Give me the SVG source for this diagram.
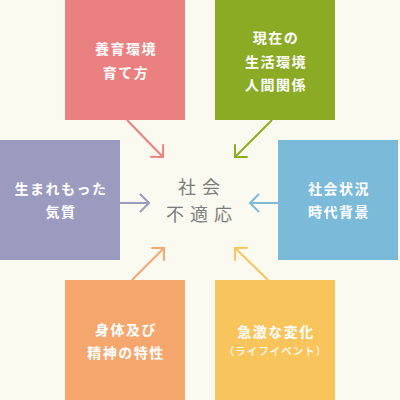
<svg xmlns="http://www.w3.org/2000/svg" width="400" height="400" viewBox="0 0 400 400">
<style>
.lbl{font-family:"Noto Sans CJK JP","Noto Sans",sans-serif;font-size:14px;font-weight:700;fill:#ffffff;text-anchor:middle;letter-spacing:1.5px}
.sub{font-size:10.5px;font-weight:500;letter-spacing:1px}
.ctr{font-family:"Noto Sans CJK JP","Noto Sans",sans-serif;font-size:18px;fill:#7b7b7b;text-anchor:middle;letter-spacing:6px}
.arr{fill:none;stroke-width:2}
</style>
<defs>
<marker id="mPink" markerUnits="userSpaceOnUse" markerWidth="30" markerHeight="30" refX="0" refY="0" viewBox="-15 -15 30 30" orient="auto"><path d="M-9,-9 L0,0 L-9,9" fill="none" stroke="#ea8080" stroke-width="2"/></marker>
<marker id="mGreen" markerUnits="userSpaceOnUse" markerWidth="30" markerHeight="30" refX="0" refY="0" viewBox="-15 -15 30 30" orient="auto"><path d="M-9,-9 L0,0 L-9,9" fill="none" stroke="#8bab25" stroke-width="2"/></marker>
<marker id="mPurple" markerUnits="userSpaceOnUse" markerWidth="30" markerHeight="30" refX="0" refY="0" viewBox="-15 -15 30 30" orient="auto"><path d="M-9,-9 L0,0 L-9,9" fill="none" stroke="#9b9bc0" stroke-width="2"/></marker>
<marker id="mBlue" markerUnits="userSpaceOnUse" markerWidth="30" markerHeight="30" refX="0" refY="0" viewBox="-15 -15 30 30" orient="auto"><path d="M-9,-9 L0,0 L-9,9" fill="none" stroke="#7bbad9" stroke-width="2"/></marker>
<marker id="mOrange" markerUnits="userSpaceOnUse" markerWidth="30" markerHeight="30" refX="0" refY="0" viewBox="-15 -15 30 30" orient="auto"><path d="M-9,-9 L0,0 L-9,9" fill="none" stroke="#f5a76e" stroke-width="2"/></marker>
<marker id="mYellow" markerUnits="userSpaceOnUse" markerWidth="30" markerHeight="30" refX="0" refY="0" viewBox="-15 -15 30 30" orient="auto"><path d="M-9,-9 L0,0 L-9,9" fill="none" stroke="#f7c55c" stroke-width="2"/></marker>
</defs>
<rect x="0" y="0" width="400" height="400" fill="#fbfaf1"/>
<g id="center">
<text class="ctr" x="202" y="194">社会</text>
<text class="ctr" x="202" y="221">不適応</text>
</g>
<g id="n-pink">
<rect x="65" y="0" width="120" height="120" fill="#ea8080"/>
<text class="lbl" x="126" y="54">養育環境</text>
<text class="lbl" x="126" y="78">育て方</text>
</g>
<g id="n-green">
<rect x="215" y="0" width="120" height="120" fill="#8bab25"/>
<text class="lbl" x="276" y="43">現在の</text>
<text class="lbl" x="276" y="67">生活環境</text>
<text class="lbl" x="276" y="90">人間関係</text>
</g>
<g id="n-purple">
<rect x="0" y="140" width="120" height="120" fill="#9b9bc0"/>
<text class="lbl" x="61" y="194">生まれもった</text>
<text class="lbl" x="61" y="217">気質</text>
</g>
<g id="n-blue">
<rect x="278" y="140" width="120" height="120" fill="#7bbad9"/>
<text class="lbl" x="339" y="194">社会状況</text>
<text class="lbl" x="339" y="217">時代背景</text>
</g>
<g id="n-orange">
<rect x="65" y="280" width="120" height="120" fill="#f5a76e"/>
<text class="lbl" x="126" y="335">身体及び</text>
<text class="lbl" x="126" y="358">精神の特性</text>
</g>
<g id="n-yellow">
<rect x="215" y="280" width="120" height="120" fill="#f7c55c"/>
<text class="lbl" x="276" y="337">急激な変化</text>
<text class="lbl sub" x="275.5" y="355">（ライフイベント）</text>
</g>
<g id="connectors">
<line class="arr" x1="127" y1="120" x2="163" y2="157" stroke="#ea8080" marker-end="url(#mPink)"/>
<line class="arr" x1="272" y1="120" x2="235" y2="157" stroke="#8bab25" marker-end="url(#mGreen)"/>
<line class="arr" x1="120" y1="203" x2="149" y2="203" stroke="#9b9bc0" marker-end="url(#mPurple)"/>
<line class="arr" x1="278" y1="203" x2="250" y2="203" stroke="#7bbad9" marker-end="url(#mBlue)"/>
<line class="arr" x1="132" y1="280" x2="164" y2="248" stroke="#f5a76e" marker-end="url(#mOrange)"/>
<line class="arr" x1="268" y1="280" x2="235" y2="248" stroke="#f7c55c" marker-end="url(#mYellow)"/>
</g>
</svg>
